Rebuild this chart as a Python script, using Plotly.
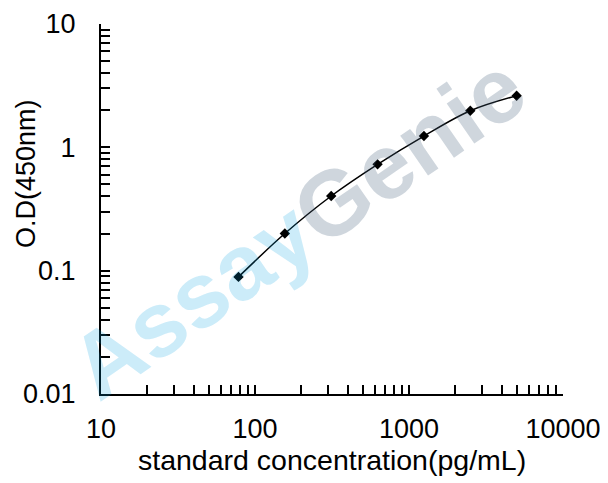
import plotly.graph_objects as go

# standard curve readings
concentration = [78.125, 156.25, 312.5, 625, 1250, 2500, 5000]
od_450 = [0.089, 0.200, 0.403, 0.728, 1.235, 1.98, 2.62]

x_tickvals = [10, 100, 1000, 10000]
x_ticktext = ["10", "100", "1000", "10000"]
y_tickvals = [0.01, 0.1, 1, 10]
y_ticktext = ["0.01", "0.1", "1", "10"]

FONT = "Arial, Liberation Sans, sans-serif"

fig = go.Figure()

fig.add_trace(go.Scatter(
    x=concentration, y=od_450,
    mode="lines+markers",
    line=dict(color="black", width=1.5, shape="spline"),
    marker=dict(symbol="diamond", size=8, color="black"),
    showlegend=False,
))

axis_common = dict(
    type="log",
    automargin=False,
    showgrid=False,
    zeroline=False,
    showline=True,
    linecolor="black",
    linewidth=2,
    ticks="inside",
    ticklen=9,
    tickwidth=1.5,
    tickcolor="black",
    minor=dict(ticks="inside", ticklen=9, tickwidth=1.5, tickcolor="black", dtick="D1"),
    tickfont=dict(family=FONT, size=27, color="black"),
    tickmode="array",
)

fig.update_xaxes(**axis_common, range=[1, 4], tickvals=x_tickvals, ticktext=x_ticktext,
                 ticklabelstandoff=10)
fig.update_yaxes(**axis_common, range=[-2, 1], tickvals=y_tickvals, ticktext=y_ticktext,
                 ticklabelstandoff=18)

# axis titles placed by hand
fig.add_annotation(
    text="standard concentration(pg/mL)",
    xref="paper", yref="paper", x=0.5, y=-0.178,
    xanchor="center", yanchor="middle", showarrow=False,
    font=dict(family=FONT, size=28.5, color="black"),
)
fig.add_annotation(
    text="O.D(450nm)", textangle=-90,
    xref="paper", yref="paper", x=-0.162, y=0.595,
    xanchor="center", yanchor="middle", showarrow=False,
    font=dict(family=FONT, size=27, color="black"),
)

# watermark (translucent so the curve still shows through)
fig.add_annotation(
    text="<span style='color:rgba(0,160,225,0.2)'>Assay</span>"
         "<span style='color:rgba(70,95,125,0.26)'>Genie</span>",
    textangle=-34.6,
    xref="paper", yref="paper", x=0.425, y=0.451,
    xanchor="center", yanchor="middle", showarrow=False,
    font=dict(family=FONT, size=92, weight="bold"),
)

# page body has an 8px margin, so size the figure to fit the window
fig.update_layout(
    width=600, height=475,
    margin=dict(l=93, r=45, t=16, b=89),
    paper_bgcolor="white",
    plot_bgcolor="white",
)

fig.write_html("out.html")
